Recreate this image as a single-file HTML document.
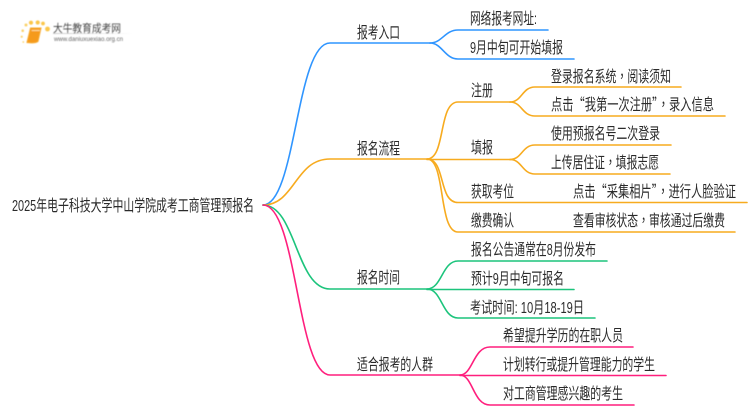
<!DOCTYPE html>
<html><head><meta charset="utf-8"><style>
html,body{margin:0;padding:0;background:#fff;width:750px;height:410px;overflow:hidden}
svg{display:block}
text{font-family:"Liberation Sans","Noto Sans CJK SC",sans-serif;font-size:16px;fill:#2b2b2b}
.c{font-family:"Noto Sans CJK TC",sans-serif}
.q{font-family:"Noto Sans CJK SC",sans-serif}
path{fill:none;stroke-width:1.6;stroke-linecap:round}
.b path{stroke:#2f95ff}.o path{stroke:#f7ab1f}.g path{stroke:#1cc47c}.p path{stroke:#ff1f7d}
</style></head><body>
<svg width="750" height="410" viewBox="0 0 750 410" xmlns="http://www.w3.org/2000/svg">
<defs>
<filter id="bl" x="-10%" y="-10%" width="120%" height="120%"><feGaussianBlur stdDeviation="0.450"/></filter>
<filter id="tb" x="0" y="0" width="100%" height="100%"><feGaussianBlur stdDeviation="0.200"/></filter>
<linearGradient id="ln"><stop offset="0" stop-color="#ccc"/><stop offset="1" stop-color="#fff"/></linearGradient>
</defs>
<g class="b">
<path d="M263 205C296 205 296 43 330 43H430"/>
<path d="M430 43C442 43 445 30 458 30H548"/>
<path d="M430 43C442 43 445 59 458 59H574"/>
</g>
<g class="o">
<path d="M263 205C295 205 295 159 330 159H427"/>
<path d="M427 159C446 159 438 102 458 102H510"/>
<path d="M427 159.500H510"/>
<path d="M427 159C446 159 438 202.500 458 202.500H747"/>
<path d="M427 159C446 159 438 232 458 232H735"/>
<path d="M510 102C522 102 522 87 535 87H681"/>
<path d="M510 102C522 102 522 116 535 116H725"/>
<path d="M510 159.500C522 159.500 522 145 535 145H671"/>
<path d="M510 159.500C522 159.500 522 174 535 174H670"/>
</g>
<g class="g">
<path d="M263 205C296 205 296 289 330 289H427"/>
<path d="M427 289C442 289 442 261 458 261H607"/>
<path d="M427 289.500H574"/>
<path d="M427 289C442 289 442 318 458 318H595"/>
</g>
<g class="p">
<path d="M263 205C297 205 297 375 330 375H460"/>
<path d="M460 375C473 375 473 347 490 347H633"/>
<path d="M460 375.500H666"/>
<path d="M460 375C473 375 473 405 490 405H634"/>
</g>

<g filter="url(#tb)">
<text x="12" y="211" textLength="242" lengthAdjust="spacingAndGlyphs">2025年电子科技大学中山学院成考工商管理预报名</text>
<text x="357" y="38" textLength="43" lengthAdjust="spacingAndGlyphs">报考入口</text>
<text x="357" y="154" textLength="43" lengthAdjust="spacingAndGlyphs">报名流程</text>
<text x="357" y="283" textLength="43" lengthAdjust="spacingAndGlyphs">报名时间</text>
<text x="357" y="370" textLength="76" lengthAdjust="spacingAndGlyphs">适合报考的人群</text>

<text x="470" y="24" textLength="67" lengthAdjust="spacingAndGlyphs">网络报考网址:</text>
<text x="470" y="53" textLength="93" lengthAdjust="spacingAndGlyphs">9月中旬可开始填报</text>
<text x="471" y="96" textLength="22" lengthAdjust="spacingAndGlyphs">注册</text>
<text x="471" y="153" textLength="22" lengthAdjust="spacingAndGlyphs">填报</text>
<text x="471" y="197" textLength="43" lengthAdjust="spacingAndGlyphs">获取考位</text>
<text x="471" y="226" textLength="43" lengthAdjust="spacingAndGlyphs">缴费确认</text>

<text x="551" y="82" textLength="120" lengthAdjust="spacingAndGlyphs">登录报名系统<tspan class="c">，</tspan>阅读须知</text>
<text x="551" y="110" textLength="163" lengthAdjust="spacingAndGlyphs">点击<tspan class="q">“</tspan>我第一次注册<tspan class="q">”</tspan><tspan class="c">，</tspan>录入信息</text>
<text x="551" y="139" textLength="109" lengthAdjust="spacingAndGlyphs">使用预报名号二次登录</text>
<text x="551" y="168" textLength="108" lengthAdjust="spacingAndGlyphs">上传居住证<tspan class="c">，</tspan>填报志愿</text>
<text x="573" y="197" textLength="163" lengthAdjust="spacingAndGlyphs">点击<tspan class="q">“</tspan>采集相片<tspan class="q">”</tspan><tspan class="c">，</tspan>进行人脸验证</text>
<text x="573" y="226" textLength="152" lengthAdjust="spacingAndGlyphs">查看审核状态<tspan class="c">，</tspan>审核通过后缴费</text>

<text x="471" y="255" textLength="125" lengthAdjust="spacingAndGlyphs">报名公告通常在8月份发布</text>
<text x="471" y="284" textLength="93" lengthAdjust="spacingAndGlyphs">预计9月中旬可报名</text>
<text x="470" y="313" textLength="114" lengthAdjust="spacingAndGlyphs">考试时间: 10月18-19日</text>

<text x="503" y="341" textLength="120" lengthAdjust="spacingAndGlyphs">希望提升学历的在职人员</text>
<text x="503" y="370" textLength="152" lengthAdjust="spacingAndGlyphs">计划转行或提升管理能力的学生</text>
<text x="503" y="399" textLength="120" lengthAdjust="spacingAndGlyphs">对工商管理感兴趣的考生</text>
</g>

<!-- logo -->
<g filter="url(#bl)">
<circle cx="47.500" cy="29" r="2.400" fill="#fbc64a"/>
<circle cx="43" cy="23.500" r="1.900" fill="#fbc64a"/>
<circle cx="37.700" cy="22.500" r="2.100" fill="#fbc64a"/>
<circle cx="31" cy="22.700" r="2.100" fill="#fbc64a"/>
<circle cx="26" cy="25" r="1.500" fill="#fbd26a"/>
<circle cx="22.700" cy="30.700" r="1.300" fill="#fbd26a"/>
<circle cx="21.700" cy="36.700" r="1.100" fill="#fbd26a"/>
<circle cx="23.300" cy="42" r="0.900" fill="#fbd26a"/>
<path d="M30.500 28H41L38 41.500C36 43 31 43 27 42.500Z" style="fill:#f59a1c;stroke:#f7a92c;stroke-width:1"/>
<path d="M32 30.500H39.500" style="stroke:#fde0a0;stroke-width:1"/>
<rect x="53" y="33" width="80" height="1" fill="url(#ln)"/>
<text x="53" y="32" textLength="68" lengthAdjust="spacingAndGlyphs" style="font-size:11px;fill:#444">大牛教育成考网</text>
<text x="54" y="41" textLength="69" lengthAdjust="spacingAndGlyphs" style="font-size:6.500px;fill:#666">www.daniuxuexiao.org.cn</text>
</g>
</svg>
</body></html>
